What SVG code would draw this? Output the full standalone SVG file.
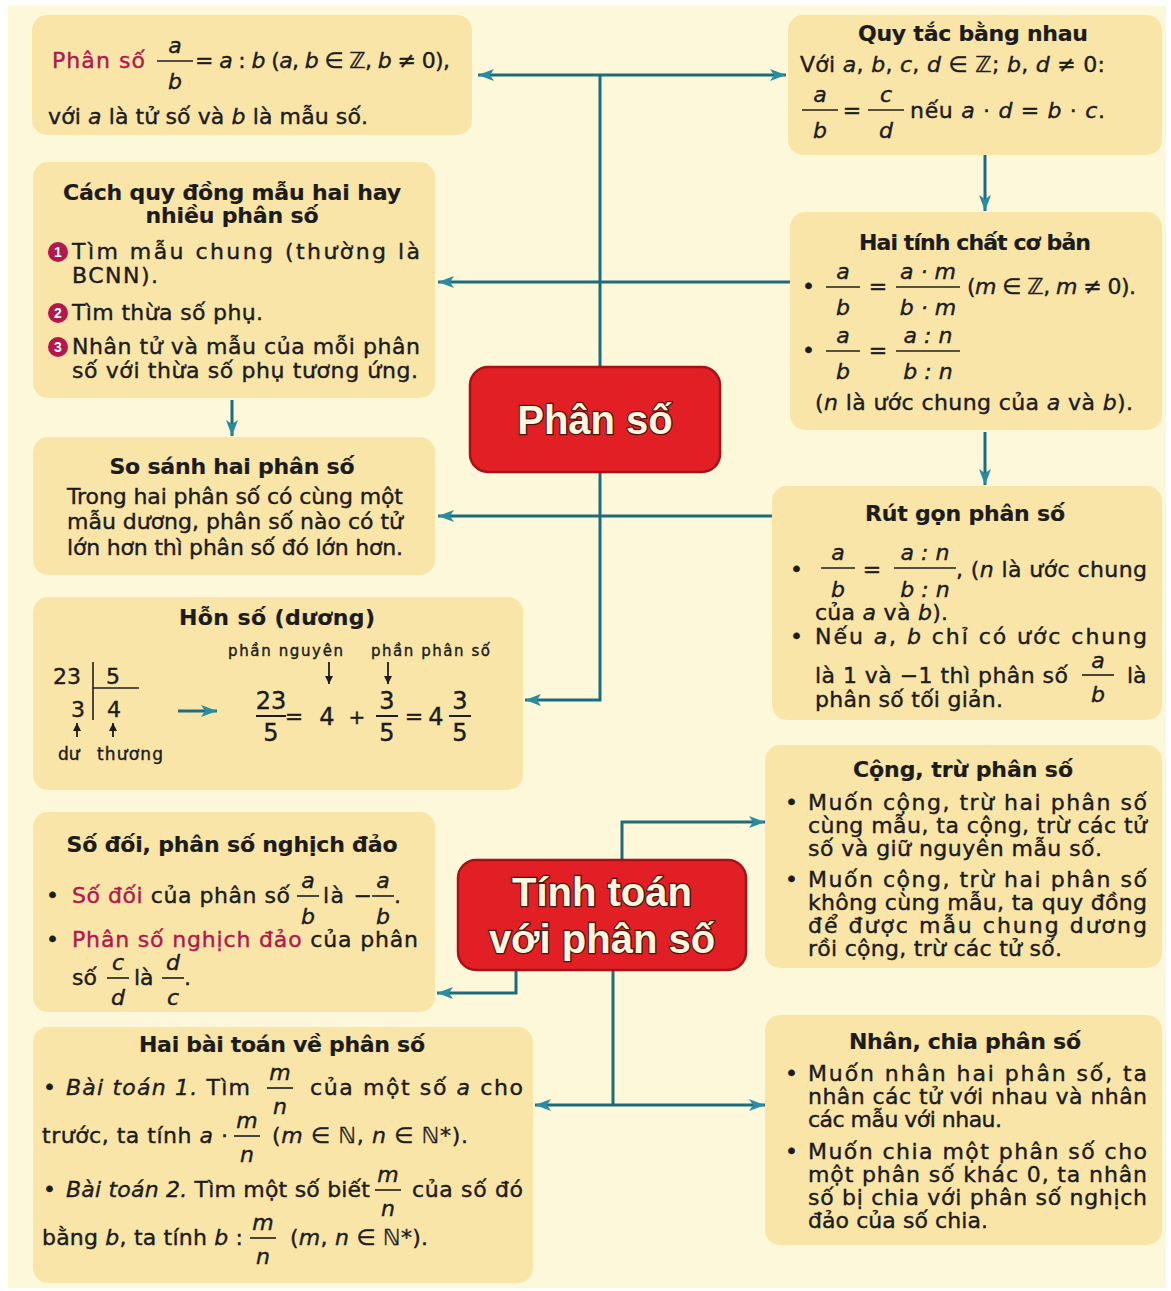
<svg xmlns="http://www.w3.org/2000/svg" width="1171" height="1291" viewBox="0 0 1171 1291">
<style>
.t{font-family:"DejaVu Sans","Liberation Sans",Arial,sans-serif;font-size:22px;fill:#1c1c1c;stroke:#1c1c1c;stroke-width:0.4}
.m{text-anchor:middle}
.h{font-weight:bold;font-size:22px;stroke-width:0.2}
.i{font-style:italic}
.r{fill:#b3174e;stroke:#b3174e}
.s{font-size:15px}
.fl{stroke:#1c1c1c;stroke-width:1.6}
.box{fill:#fae5a8}
.big{fill:#e31f26;stroke:#a51218;stroke-width:2.5}
.bt{font-family:"Liberation Sans",Arial,sans-serif;font-size:40px;font-weight:bold;fill:#fff6df;stroke:#4a1510;stroke-width:2.5;paint-order:stroke;text-anchor:middle}
.c{fill:none;stroke:#1e6b7c;stroke-width:3}
.num{fill:#b3174e}
.nt{font-family:"Liberation Sans",Arial,sans-serif;font-size:14px;font-weight:bold;fill:#fff;text-anchor:middle}
.ka{stroke:#1c1c1c;stroke-width:1.8;fill:none}
</style>
<defs>
<marker id="ah" markerUnits="userSpaceOnUse" markerWidth="18" markerHeight="14" refX="16" refY="7" orient="auto-start-reverse">
<path d="M0,1 L16,7 L0,13 L4,7 Z" fill="#2a8ca0"/>
</marker>
<marker id="ka" markerUnits="userSpaceOnUse" markerWidth="10" markerHeight="10" refX="8" refY="5" orient="auto">
<path d="M0,1 L8,5 L0,9 Z" fill="#1c1c1c"/>
</marker>
</defs>
<rect x="0" y="0" width="1171" height="1291" fill="#ffffff"/>
<rect x="8" y="6" width="1158" height="1282" fill="#fef8da"/>

<g id="connectors">
<polyline class="c" points="600,367 600,75"/>
<line class="c" x1="600" y1="75" x2="478" y2="75" marker-end="url(#ah)"/>
<line class="c" x1="600" y1="75" x2="786" y2="75" marker-end="url(#ah)"/>
<line class="c" x1="985" y1="155" x2="985" y2="211" marker-end="url(#ah)"/>
<line class="c" x1="790" y1="282" x2="438" y2="282" marker-end="url(#ah)"/>
<line class="c" x1="232" y1="400" x2="232" y2="436" marker-end="url(#ah)"/>
<line class="c" x1="985" y1="432" x2="985" y2="485" marker-end="url(#ah)"/>
<line class="c" x1="772" y1="516" x2="438" y2="516" marker-end="url(#ah)"/>
<polyline class="c" points="600,472 600,700 525,700" marker-end="url(#ah)"/>
<polyline class="c" points="622,860 622,822 765,822" marker-end="url(#ah)"/>
<polyline class="c" points="516,970 516,993 437,993" marker-end="url(#ah)"/>
<line class="c" x1="613" y1="970" x2="613" y2="1105"/>
<line class="c" x1="613" y1="1105" x2="535" y2="1105" marker-end="url(#ah)"/>
<line class="c" x1="613" y1="1105" x2="765" y2="1105" marker-end="url(#ah)"/>
</g>

<g id="node-dinh-nghia">
<rect class="box" x="32" y="15" width="440" height="120" rx="15"/>
<text class="t r" x="52" y="68" textLength="93" lengthAdjust="spacing">Phân số</text>
<text class="t i m" x="175" y="53">a</text>
<line class="fl" x1="157" y1="61" x2="193" y2="61"/>
<text class="t i m" x="175" y="89">b</text>
<text class="t" x="195" y="68" textLength="255" lengthAdjust="spacing">= <tspan class="i">a</tspan> : <tspan class="i">b</tspan> (<tspan class="i">a</tspan>, <tspan class="i">b</tspan> ∈ ℤ, <tspan class="i">b</tspan> ≠ 0),</text>
<text class="t" x="48" y="124" textLength="320" lengthAdjust="spacing">với <tspan class="i">a</tspan> là tử số và <tspan class="i">b</tspan> là mẫu số.</text>
</g>

<g id="node-quy-tac-bang-nhau">
<rect class="box" x="788" y="15" width="374" height="140" rx="15"/>
<text class="t h m" x="973" y="41" textLength="230" lengthAdjust="spacing">Quy tắc bằng nhau</text>
<text class="t" x="800" y="72" textLength="305" lengthAdjust="spacing">Với <tspan class="i">a</tspan>, <tspan class="i">b</tspan>, <tspan class="i">c</tspan>, <tspan class="i">d</tspan>  ∈ ℤ; <tspan class="i">b</tspan>, <tspan class="i">d</tspan> ≠ 0:</text>
<text class="t i m" x="820" y="102">a</text>
<line class="fl" x1="802" y1="110" x2="838" y2="110"/>
<text class="t i m" x="820" y="138">b</text>
<text class="t m" x="852" y="118">=</text>
<text class="t i m" x="886" y="102">c</text>
<line class="fl" x1="868" y1="110" x2="904" y2="110"/>
<text class="t i m" x="886" y="138">d</text>
<text class="t" x="910" y="118" textLength="195" lengthAdjust="spacing">nếu <tspan class="i">a</tspan> · <tspan class="i">d</tspan> = <tspan class="i">b</tspan> · <tspan class="i">c</tspan>.</text>
</g>

<g id="node-quy-dong">
<rect class="box" x="33" y="162" width="402" height="236" rx="15"/>
<text class="t h m" x="232" y="200" textLength="338" lengthAdjust="spacing">Cách quy đồng mẫu hai hay</text>
<text class="t h m" x="232" y="223" textLength="173" lengthAdjust="spacing">nhiều phân số</text>
<circle class="num" cx="58" cy="252" r="10"/><text class="nt" x="58" y="257">1</text>
<text class="t" x="72" y="259" textLength="348" lengthAdjust="spacing">Tìm mẫu chung (thường là</text>
<text class="t" x="72" y="283" textLength="86" lengthAdjust="spacing">BCNN).</text>
<circle class="num" cx="58" cy="313" r="10"/><text class="nt" x="58" y="318">2</text>
<text class="t" x="72" y="320" textLength="191" lengthAdjust="spacing">Tìm thừa số phụ.</text>
<circle class="num" cx="58" cy="347" r="10"/><text class="nt" x="58" y="352">3</text>
<text class="t" x="72" y="354" textLength="348" lengthAdjust="spacing">Nhân tử và mẫu của mỗi phân</text>
<text class="t" x="72" y="378" textLength="346" lengthAdjust="spacing">số với thừa số phụ tương ứng.</text>
</g>

<g id="node-hai-tinh-chat">
<rect class="box" x="790" y="212" width="372" height="218" rx="15"/>
<text class="t h m" x="975" y="250" textLength="232" lengthAdjust="spacing">Hai tính chất cơ bản</text>
<text class="t" x="802" y="294">•</text>
<text class="t i m" x="843" y="279">a</text>
<line class="fl" x1="826" y1="287" x2="860" y2="287"/>
<text class="t i m" x="843" y="315">b</text>
<text class="t m" x="878" y="294">=</text>
<text class="t i m" x="928" y="279">a · m</text>
<line class="fl" x1="896" y1="287" x2="960" y2="287"/>
<text class="t i m" x="928" y="315">b · m</text>
<text class="t" x="967" y="294" textLength="169" lengthAdjust="spacing">(<tspan class="i">m</tspan> ∈ ℤ, <tspan class="i">m</tspan> ≠ 0).</text>
<text class="t" x="802" y="358">•</text>
<text class="t i m" x="843" y="343">a</text>
<line class="fl" x1="826" y1="351" x2="860" y2="351"/>
<text class="t i m" x="843" y="379">b</text>
<text class="t m" x="878" y="358">=</text>
<text class="t i m" x="928" y="343">a : n</text>
<line class="fl" x1="896" y1="351" x2="960" y2="351"/>
<text class="t i m" x="928" y="379">b : n</text>
<text class="t" x="815" y="410" textLength="318" lengthAdjust="spacing">(<tspan class="i">n</tspan> là ước chung của <tspan class="i">a</tspan> và <tspan class="i">b</tspan>).</text>
</g>

<g id="node-phan-so">
<rect class="big" x="470" y="367" width="250" height="105" rx="18"/>
<text class="bt" x="595" y="434">Phân số</text>
</g>

<g id="node-so-sanh">
<rect class="box" x="33" y="437" width="402" height="138" rx="15"/>
<text class="t h m" x="232" y="474" textLength="245" lengthAdjust="spacing">So sánh hai phân số</text>
<text class="t" x="67" y="504" textLength="336" lengthAdjust="spacing">Trong hai phân số có cùng một</text>
<text class="t" x="67" y="529" textLength="336" lengthAdjust="spacing">mẫu dương, phân số nào có tử</text>
<text class="t" x="67" y="555" textLength="336" lengthAdjust="spacing">lớn hơn thì phân số đó lớn hơn.</text>
</g>

<g id="node-rut-gon">
<rect class="box" x="772" y="486" width="390" height="234" rx="15"/>
<text class="t h m" x="965" y="521" textLength="200" lengthAdjust="spacing">Rút gọn phân số</text>
<text class="t" x="790" y="577">•</text>
<text class="t i m" x="838" y="560">a</text>
<line class="fl" x1="821" y1="568" x2="855" y2="568"/>
<text class="t i m" x="838" y="597">b</text>
<text class="t m" x="872" y="577">=</text>
<text class="t i m" x="925" y="560">a : n</text>
<line class="fl" x1="894" y1="568" x2="956" y2="568"/>
<text class="t i m" x="925" y="597">b : n</text>
<text class="t" x="956" y="577" textLength="191" lengthAdjust="spacing">, (<tspan class="i">n</tspan> là ước chung</text>
<text class="t" x="815" y="620" textLength="133" lengthAdjust="spacing">của <tspan class="i">a</tspan> và <tspan class="i">b</tspan>).</text>
<text class="t" x="790" y="644">•</text>
<text class="t" x="815" y="644" textLength="332" lengthAdjust="spacing">Nếu <tspan class="i">a</tspan>, <tspan class="i">b</tspan> chỉ có ước chung</text>
<text class="t" x="815" y="683" textLength="253" lengthAdjust="spacing">là 1 và −1 thì phân số</text>
<text class="t i m" x="1098" y="668">a</text>
<line class="fl" x1="1082" y1="675" x2="1114" y2="675"/>
<text class="t i m" x="1098" y="702">b</text>
<text class="t" x="1127" y="683">là</text>
<text class="t" x="815" y="707" textLength="188" lengthAdjust="spacing">phân số tối giản.</text>
</g>

<g id="node-hon-so">
<rect class="box" x="33" y="597" width="490" height="193" rx="15"/>
<text class="t h m" x="277" y="625" textLength="196" lengthAdjust="spacing">Hỗn số (dương)</text>
<text class="t" x="53" y="684" style="font-size:22px">23</text>
<text class="t" x="106" y="684" style="font-size:22px">5</text>
<line class="fl" x1="93" y1="662" x2="93" y2="720"/>
<line class="fl" x1="93" y1="688" x2="139" y2="688"/>
<text class="t" x="71" y="717" style="font-size:22px">3</text>
<text class="t" x="107" y="717" style="font-size:22px">4</text>
<line class="ka" x1="77" y1="737" x2="77" y2="723" marker-end="url(#ka)"/>
<line class="ka" x1="113" y1="737" x2="113" y2="723" marker-end="url(#ka)"/>
<text class="t" x="58" y="760" style="font-size:17px">dư</text>
<text class="t" x="97" y="760" style="font-size:17px" textLength="66" lengthAdjust="spacing">thương</text>
<line class="c" x1="178" y1="711" x2="217" y2="711" marker-end="url(#ah)"/>
<text class="t s" x="228" y="656" textLength="115" lengthAdjust="spacing">phần nguyên</text>
<text class="t s" x="371" y="656" textLength="119" lengthAdjust="spacing">phần phân số</text>
<line class="ka" x1="329" y1="662" x2="329" y2="684" marker-end="url(#ka)"/>
<line class="ka" x1="388" y1="662" x2="388" y2="684" marker-end="url(#ka)"/>
<text class="t m" x="271" y="709" style="font-size:24px">23</text>
<line class="fl" x1="256" y1="716" x2="286" y2="716" style="stroke-width:2"/>
<text class="t m" x="271" y="741" style="font-size:24px">5</text>
<text class="t m" x="294" y="724" style="font-size:22px">=</text>
<text class="t m" x="327" y="725" style="font-size:24px">4</text>
<text class="t m" x="357" y="724" style="font-size:20px">+</text>
<text class="t m" x="387" y="709" style="font-size:24px">3</text>
<line class="fl" x1="376" y1="716" x2="398" y2="716" style="stroke-width:2"/>
<text class="t m" x="387" y="741" style="font-size:24px">5</text>
<text class="t m" x="414" y="724" style="font-size:22px">=</text>
<text class="t m" x="436" y="725" style="font-size:24px">4</text>
<text class="t m" x="460" y="709" style="font-size:24px">3</text>
<line class="fl" x1="449" y1="716" x2="471" y2="716" style="stroke-width:2"/>
<text class="t m" x="460" y="741" style="font-size:24px">5</text>
</g>

<g id="node-cong-tru">
<rect class="box" x="765" y="745" width="397" height="223" rx="15"/>
<text class="t h m" x="963" y="777" textLength="220" lengthAdjust="spacing">Cộng, trừ phân số</text>
<text class="t" x="785" y="810">•</text>
<text class="t" x="808" y="810" textLength="339" lengthAdjust="spacing">Muốn cộng, trừ hai phân số</text>
<text class="t" x="808" y="833" textLength="339" lengthAdjust="spacing">cùng mẫu, ta cộng, trừ các tử</text>
<text class="t" x="808" y="856" textLength="294" lengthAdjust="spacing">số và giữ nguyên mẫu số.</text>
<text class="t" x="785" y="887">•</text>
<text class="t" x="808" y="887" textLength="339" lengthAdjust="spacing">Muốn cộng, trừ hai phân số</text>
<text class="t" x="808" y="910" textLength="339" lengthAdjust="spacing">không cùng mẫu, ta quy đồng</text>
<text class="t" x="808" y="933" textLength="339" lengthAdjust="spacing">để được mẫu chung dương</text>
<text class="t" x="808" y="956" textLength="254" lengthAdjust="spacing">rồi cộng, trừ các tử số.</text>
</g>

<g id="node-tinh-toan">
<rect class="big" x="458" y="860" width="288" height="110" rx="18"/>
<text class="bt" x="602" y="906">Tính toán</text>
<text class="bt" x="602" y="953">với phân số</text>
</g>

<g id="node-so-doi">
<rect class="box" x="33" y="812" width="402" height="200" rx="15"/>
<text class="t h m" x="232" y="852" textLength="331" lengthAdjust="spacing">Số đối, phân số nghịch đảo</text>
<text class="t" x="46" y="903">•</text>
<text class="t" x="72" y="903" textLength="218" lengthAdjust="spacing"><tspan class="r">Số đối</tspan> của phân số</text>
<text class="t i m" x="308" y="888">a</text>
<line class="fl" x1="297" y1="896" x2="319" y2="896"/>
<text class="t i m" x="308" y="924">b</text>
<text class="t" x="323" y="903" textLength="49" lengthAdjust="spacing">là −</text>
<text class="t i m" x="383" y="888">a</text>
<line class="fl" x1="372" y1="896" x2="394" y2="896"/>
<text class="t i m" x="383" y="924">b</text>
<text class="t" x="394" y="903">.</text>
<text class="t" x="46" y="947">•</text>
<text class="t" x="72" y="947" textLength="346" lengthAdjust="spacing"><tspan class="r">Phân số nghịch đảo</tspan> của phân</text>
<text class="t" x="72" y="985">số</text>
<text class="t i m" x="118" y="970">c</text>
<line class="fl" x1="107" y1="978" x2="129" y2="978"/>
<text class="t i m" x="118" y="1005">d</text>
<text class="t" x="134" y="985">là</text>
<text class="t i m" x="173" y="970">d</text>
<line class="fl" x1="162" y1="978" x2="184" y2="978"/>
<text class="t i m" x="173" y="1005">c</text>
<text class="t" x="184" y="985">.</text>
</g>

<g id="node-hai-bai-toan">
<rect class="box" x="33" y="1027" width="500" height="256" rx="15"/>
<text class="t h m" x="282" y="1052" textLength="286" lengthAdjust="spacing">Hai bài toán về phân số</text>
<text class="t" x="43" y="1095">•</text>
<text class="t" x="66" y="1095" textLength="184" lengthAdjust="spacing"><tspan class="i">Bài toán 1.</tspan> Tìm</text>
<text class="t i m" x="280" y="1080">m</text>
<line class="fl" x1="267" y1="1088" x2="293" y2="1088"/>
<text class="t i m" x="280" y="1114">n</text>
<text class="t" x="310" y="1095" textLength="213" lengthAdjust="spacing">của một số <tspan class="i">a</tspan> cho</text>
<text class="t" x="42" y="1143" textLength="186" lengthAdjust="spacing">trước, ta tính <tspan class="i">a</tspan> ·</text>
<text class="t i m" x="247" y="1128">m</text>
<line class="fl" x1="234" y1="1136" x2="260" y2="1136"/>
<text class="t i m" x="247" y="1162">n</text>
<text class="t" x="272" y="1143" textLength="196" lengthAdjust="spacing">(<tspan class="i">m</tspan> ∈ ℕ, <tspan class="i">n</tspan> ∈ ℕ*).</text>
<text class="t" x="43" y="1197">•</text>
<text class="t" x="66" y="1197" textLength="304" lengthAdjust="spacing"><tspan class="i">Bài toán 2.</tspan> Tìm một số biết</text>
<text class="t i m" x="388" y="1182">m</text>
<line class="fl" x1="375" y1="1190" x2="401" y2="1190"/>
<text class="t i m" x="388" y="1216">n</text>
<text class="t" x="412" y="1197" textLength="111" lengthAdjust="spacing">của số đó</text>
<text class="t" x="42" y="1245" textLength="201" lengthAdjust="spacing">bằng <tspan class="i">b</tspan>, ta tính <tspan class="i">b</tspan> :</text>
<text class="t i m" x="263" y="1230">m</text>
<line class="fl" x1="250" y1="1238" x2="276" y2="1238"/>
<text class="t i m" x="263" y="1264">n</text>
<text class="t" x="290" y="1245" textLength="138" lengthAdjust="spacing">(<tspan class="i">m</tspan>, <tspan class="i">n</tspan> ∈ ℕ*).</text>
</g>

<g id="node-nhan-chia">
<rect class="box" x="765" y="1015" width="397" height="230" rx="15"/>
<text class="t h m" x="965" y="1049" textLength="232" lengthAdjust="spacing">Nhân, chia phân số</text>
<text class="t" x="785" y="1081">•</text>
<text class="t" x="808" y="1081" textLength="339" lengthAdjust="spacing">Muốn nhân hai phân số, ta</text>
<text class="t" x="808" y="1104" textLength="339" lengthAdjust="spacing">nhân các tử với nhau và nhân</text>
<text class="t" x="808" y="1127" textLength="194" lengthAdjust="spacing">các mẫu với nhau.</text>
<text class="t" x="785" y="1159">•</text>
<text class="t" x="808" y="1159" textLength="339" lengthAdjust="spacing">Muốn chia một phân số cho</text>
<text class="t" x="808" y="1182" textLength="339" lengthAdjust="spacing">một phân số khác 0, ta nhân</text>
<text class="t" x="808" y="1205" textLength="339" lengthAdjust="spacing">số bị chia với phân số nghịch</text>
<text class="t" x="808" y="1228" textLength="180" lengthAdjust="spacing">đảo của số chia.</text>
</g>
</svg>
